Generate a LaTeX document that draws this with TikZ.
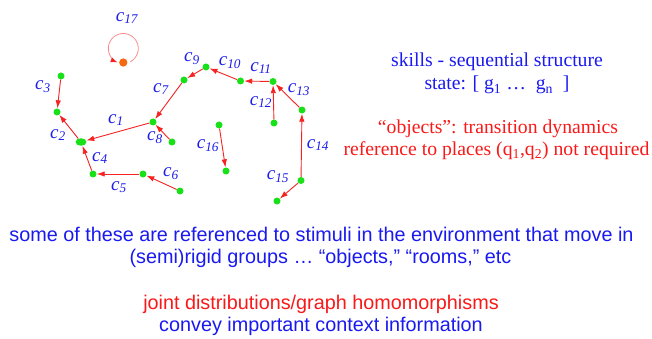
\documentclass[tikz,border=0pt]{standalone}
\usepackage{fontspec}
\setmainfont{Liberation Serif}
\newfontfamily\arialf{Liberation Sans}
\usetikzlibrary{arrows.meta,shapes.geometric,calc}
\definecolor{lblblue}{RGB}{30,30,235}
\definecolor{edgered}{RGB}{245,35,35}
\definecolor{looppink}{RGB}{250,140,140}
\definecolor{ptgreen}{RGB}{25,225,25}
\definecolor{ptorange}{RGB}{245,105,20}
\definecolor{txtred}{RGB}{250,25,25}
\definecolor{txtblue}{RGB}{25,25,240}
\begin{document}
\begin{tikzpicture}[x=1pt,y=-1pt,
  pt/.style={circle,fill=ptgreen,inner sep=0pt,minimum size=7pt},
  hubpt/.style={ellipse,fill=ptgreen,inner sep=0pt,minimum width=11pt,minimum height=7.5pt},
  loopt/.style={circle,fill=ptorange,inner sep=0pt,minimum size=8.3pt},
  edge/.style={draw=edgered,line width=0.9pt,-{Latex[length=8pt,width=5.5pt]}},
  loopedge/.style={draw=looppink,line width=0.8pt,-{Latex[length=7pt,width=5pt,color=edgered]}},
  lbl/.style={text=lblblue,font=\fontsize{19}{22}\selectfont\itshape,inner sep=0pt},
  serifblue/.style={text=txtblue,font=\fontsize{19.7}{23}\selectfont,anchor=base,inner sep=0pt},
  serifred/.style={text=txtred,font=\fontsize{19.7}{23}\selectfont,anchor=base,inner sep=0pt},
  sansblue/.style={text=txtblue,font=\arialf\fontsize{19.8}{23}\selectfont,anchor=base,inner sep=0pt},
  sansred/.style={text=txtred,font=\arialf\fontsize{19.8}{23}\selectfont,anchor=base,inner sep=0pt}]
\useasboundingbox[fill=white] (0,0) rectangle (652,339);

% points
\node[loopt] (n17) at (123.3,62.5) {};
\node[pt] (n3) at (61,76) {};
\node[pt] (n2) at (57,112) {};
\node[hubpt] (hub) at (81,142) {};
\node[pt] (n1) at (153,122) {};
\node[pt] (n8) at (172,142) {};
\node[pt] (n7) at (184,80) {};
\node[pt] (n9) at (206,67) {};
\node[pt] (n10) at (240.5,81) {};
\node[pt] (n11) at (273,81.5) {};
\node[pt] (n12) at (274,123) {};
\node[pt] (n13) at (302,110) {};
\node[pt] (n14) at (301,180.5) {};
\node[pt] (n15) at (277,201) {};
\node[pt] (n16a) at (219,125) {};
\node[pt] (n16b) at (226,171) {};
\node[pt] (n4) at (93,174) {};
\node[pt] (n5) at (143,174) {};
\node[pt] (n6) at (180,191) {};

% connectors
\draw[edge] (n3) -- (n2);
\draw[edge] (hub) -- (n2);
\draw[edge] (n1) -- (hub);
\draw[edge] (n8) -- (n1);
\draw[edge] (n7) -- (n1);
\draw[edge] (n9) -- (n7);
\draw[edge] (n10) -- (n9);
\draw[edge] (n11) -- (n10);
\draw[edge] (n12) -- (n11);
\draw[edge] (n13) -- (n11);
\draw[edge] (n14) -- (n13);
\draw[edge] (n14) -- (n15);
\draw[edge] (n16a) -- (n16b);
\draw[edge] (n4) -- (hub);
\draw[edge] (n5) -- (n4);
\draw[edge] (n6) -- (n5);
\draw[loopedge] ($(n17)+(0,-14)+(62:15)$) arc[start angle=62,end angle=-248,radius=15];

% labels
\node[lbl] (l17) at (127,18) {c\textsubscript{17}};
\node[lbl] (l3) at (43,87) {c\textsubscript{3}};
\node[lbl] (l2) at (58,135) {c\textsubscript{2}};
\node[lbl] (l1) at (116,120) {c\textsubscript{1}};
\node[lbl] (l8) at (155,138) {c\textsubscript{8}};
\node[lbl] (l7) at (161,89) {c\textsubscript{7}};
\node[lbl] (l9) at (192,59) {c\textsubscript{9}};
\node[lbl] (l10) at (230,63) {c\textsubscript{10}};
\node[lbl] (l11) at (261,68) {c\textsubscript{11}};
\node[lbl] (l12) at (261,102) {c\textsubscript{12}};
\node[lbl] (l13) at (299,90) {c\textsubscript{13}};
\node[lbl] (l14) at (318,145) {c\textsubscript{14}};
\node[lbl] (l15) at (278,177) {c\textsubscript{15}};
\node[lbl] (l16) at (208,146) {c\textsubscript{16}};
\node[lbl] (l4) at (100,158) {c\textsubscript{4}};
\node[lbl] (l5) at (119,187) {c\textsubscript{5}};
\node[lbl] (l6) at (171,174) {c\textsubscript{6}};

% right text
\node[serifblue] (t1) at (497,67) {skills - sequential structure};
\node[serifblue] (t2) at (497,90) {state: [ g\textsubscript{1} \dots\ \ g\textsubscript{n} \ ]};
\node[serifred] (t3) at (498,134) {“objects”: transition dynamics};
\node[serifred] (t4) at (496.5,155) {reference to places (q\textsubscript{1},q\textsubscript{2}) not required};

% bottom text
\node[sansblue] (b1) at (321.5,241) {some of these are referenced to stimuli in the environment that move in};
\node[sansblue] (b2) at (320.5,263) {(semi)rigid groups … “objects,” “rooms,” etc};
\node[sansred] (b3) at (321,309) {joint distributions/graph homomorphisms};
\node[sansblue] (b4) at (321,331.5) {convey important context information};
\end{tikzpicture}
\end{document}
